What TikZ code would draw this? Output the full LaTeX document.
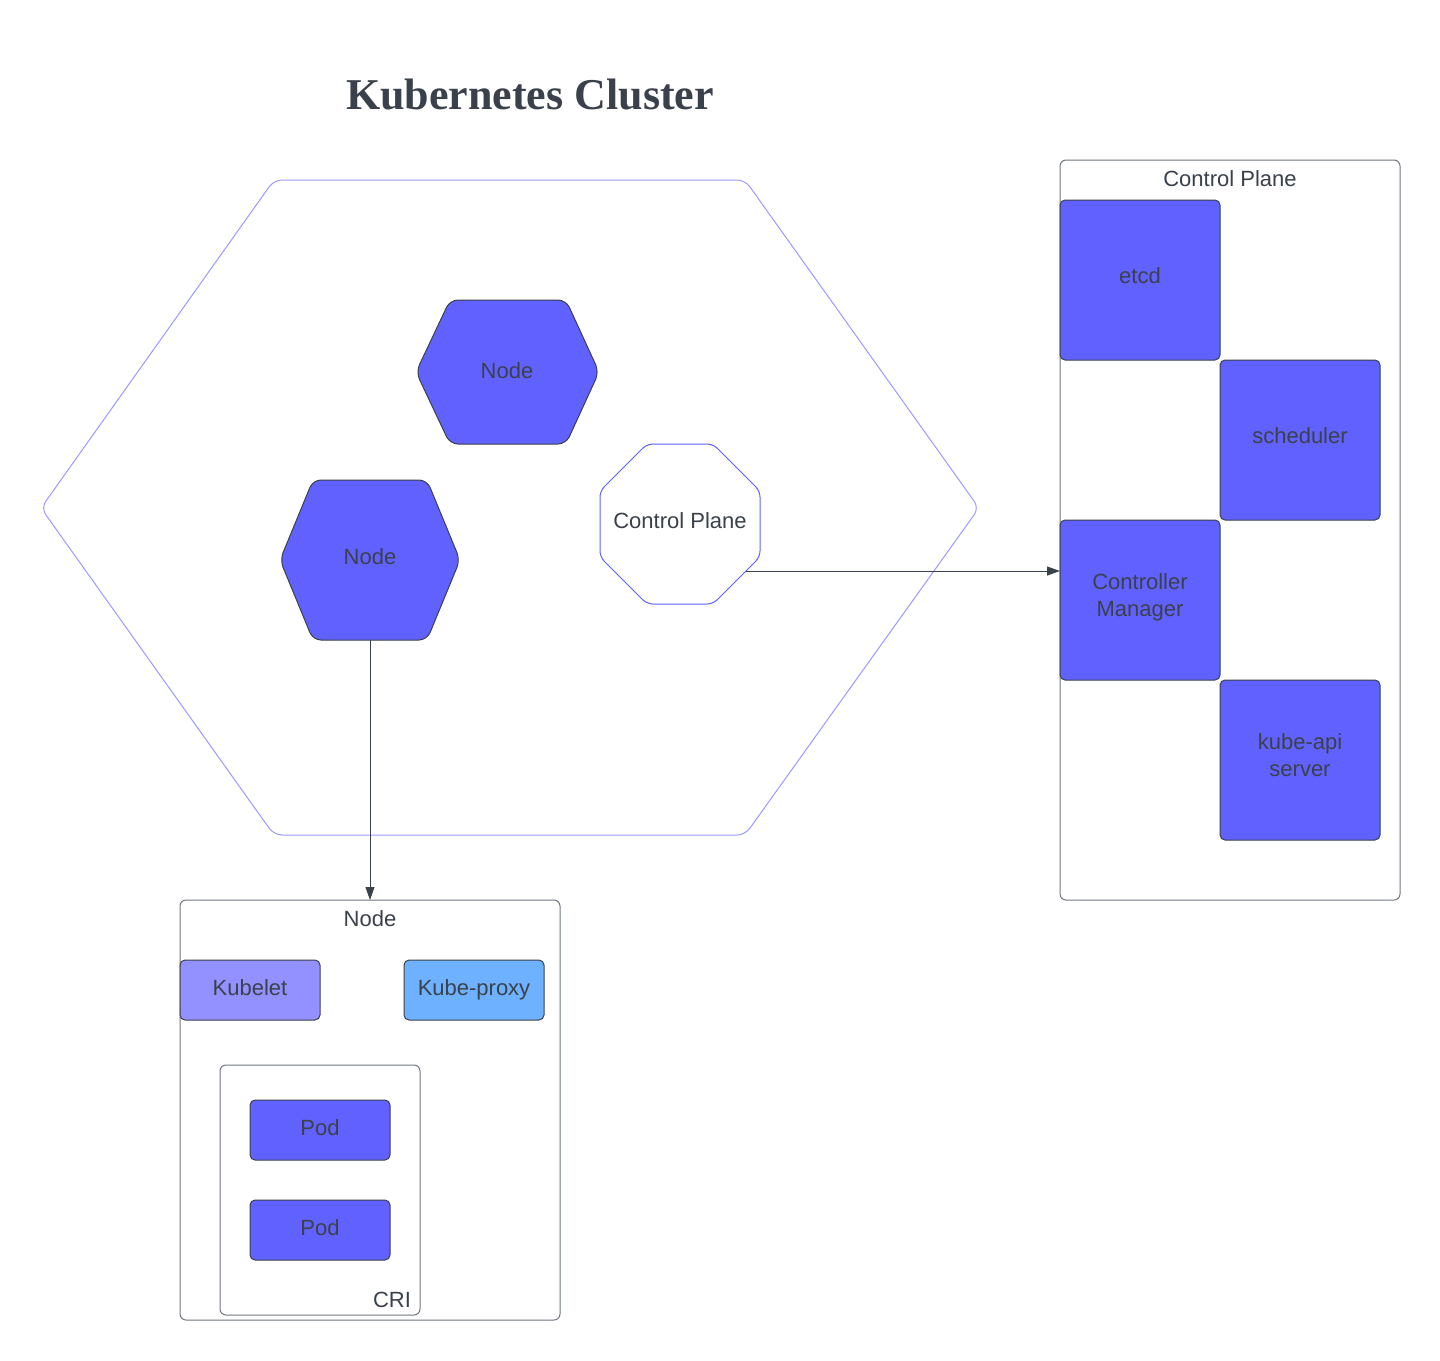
\documentclass[tikz,border=0pt]{standalone}
\usepackage{fontspec}
\setmainfont{Liberation Sans}
\newfontfamily\titlefont{Liberation Serif}
\usetikzlibrary{arrows.meta}
\definecolor{txt}{HTML}{3A414A}
\definecolor{purp}{HTML}{6161FF}
\definecolor{lpurp}{HTML}{9391FF}
\definecolor{lblue}{HTML}{6DB1FF}
\definecolor{edgec}{HTML}{3A414A}
\definecolor{grayline}{HTML}{6F7580}
\definecolor{hexline}{HTML}{9D99FF}
\definecolor{octline}{HTML}{6161FF}
\begin{document}
\begin{tikzpicture}[x=1pt,y=-1pt,
 lbl/.style={text=txt,font=\fontsize{22}{27}\selectfont,align=center},
 comp/.style={draw=edgec,fill=purp,rounded corners=5pt,inner sep=0pt,outer sep=0pt,line width=1pt},
 frame/.style={draw=grayline,rounded corners=6pt,inner sep=0pt,outer sep=0pt,line width=1pt},
 conn/.style={draw=edgec,line width=0.9pt,-{Triangle[length=13pt,width=9pt]}},
 hexfill/.style={draw=edgec,fill=purp,rounded corners=8pt,line width=1pt},
]
\useasboundingbox (0,0) rectangle (1440,1360);
\fill[white] (0,0) rectangle (1440,1360);

% title
\node[text=txt,font=\titlefont\bfseries\fontsize{44}{50}\selectfont] (title) at (530,95) {Kubernetes Cluster};

% cluster hexagon
\draw[draw=hexline,line width=1pt,rounded corners=8pt] (274,180) -- (745,180) -- (979,508) -- (745,835) -- (274,835) -- (41,508) -- cycle;

% node hexagons
\draw[hexfill] (450,300) -- (566,300) -- (599,372) -- (566,444) -- (450,444) -- (416,372) -- cycle;
\node[lbl] (node1) at (507,371) {Node};
\draw[hexfill] (313,480) -- (427,480) -- (460,560) -- (427,640) -- (313,640) -- (280,560) -- cycle;
\node[lbl] (node2) at (370,557) {Node};
\coordinate (n2bot) at (370,640);

% control plane octagon
\draw[draw=octline,fill=white,line width=1pt,rounded corners=6pt] (647,444) -- (713,444) -- (760,491) -- (760,557) -- (713,604) -- (647,604) -- (600,557) -- (600,491) -- cycle;
\node[lbl] (cpoct) at (680,521) {Control Plane};
\coordinate (cpout) at (746,571);

% control plane frame
\node[frame,minimum width=340pt,minimum height=740pt] (cpbox) at (1230,530) {};
\node[lbl] (cptitle) at (1230,179) {Control Plane};
\node[comp,minimum width=160pt,minimum height=160pt] (etcd) at (1140,280) {};
\node[lbl] (etcdt) at ([yshift=4pt]etcd.center) {etcd};
\node[comp,minimum width=160pt,minimum height=160pt] (sched) at (1300,440) {};
\node[lbl] (schedt) at ([yshift=4pt]sched.center) {scheduler};
\node[comp,minimum width=160pt,minimum height=160pt] (ctrl) at (1140,600) {};
\node[lbl] (ctrlt) at ([yshift=3pt]ctrl.center) {Controller\\Manager};
\node[comp,minimum width=160pt,minimum height=160pt] (api) at (1300,760) {};
\node[lbl] (apit) at ([yshift=5pt]api.center) {kube-api\\server};

% node frame
\node[frame,minimum width=380pt,minimum height=420pt] (nodebox) at (370,1110) {};
\node[lbl] (nodetitle) at (370,919) {Node};
\node[comp,fill=lpurp,minimum width=140pt,minimum height=60pt] (kubelet) at (250,990) {};
\node[lbl] (kubelett) at ([yshift=2pt]kubelet.center) {Kubelet};
\node[comp,fill=lblue,minimum width=140pt,minimum height=60pt] (kproxy) at (474,990) {};
\node[lbl] (kproxyt) at (kproxy.center) {Kube-proxy};
\node[frame,minimum width=200pt,minimum height=250pt] (cri) at (320,1190) {};
\node[lbl] (crilabel) at (392,1300) {CRI};
\node[comp,minimum width=140pt,minimum height=60pt] (pod1) at (320,1130) {};
\node[lbl] (pod1t) at ([yshift=2pt]pod1.center) {Pod};
\node[comp,minimum width=140pt,minimum height=60pt] (pod2) at (320,1230) {};
\node[lbl] (pod2t) at ([yshift=2pt]pod2.center) {Pod};

% connectors
\draw[conn] (n2bot) -- (nodebox.north);
\draw[conn] (cpout) -- (cpout -| cpbox.west);
\end{tikzpicture}
\end{document}
